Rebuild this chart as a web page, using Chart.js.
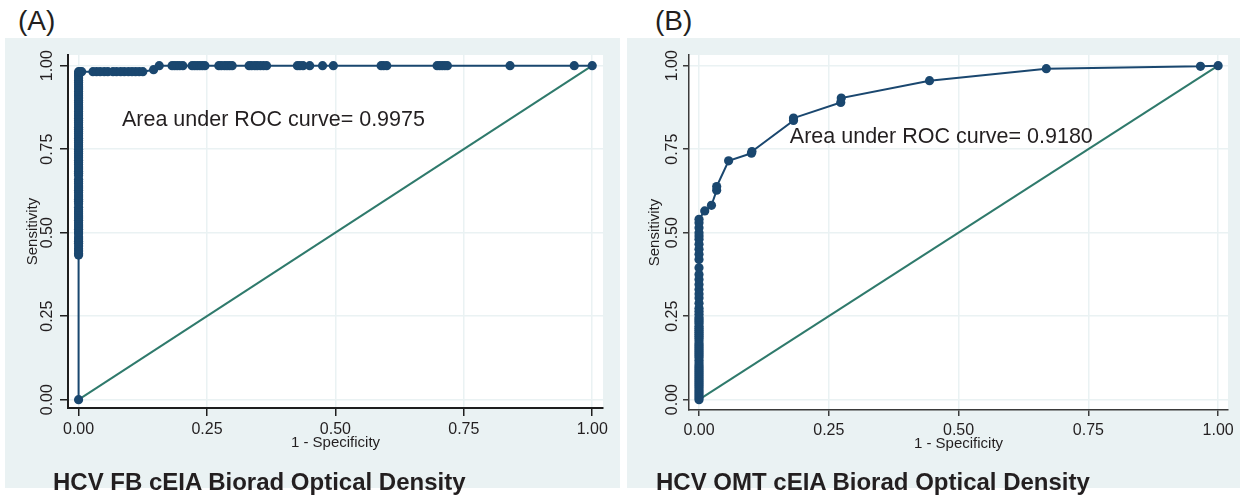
<!DOCTYPE html>
<html>
<head>
<meta charset="utf-8">
<script src="https://cdn.jsdelivr.net/npm/chart.js@4.4.1/dist/chart.umd.min.js"></script>
<style>
  body { margin: 0; background: #fff; width: 1247px; height: 498px; position: relative; overflow: hidden;
         font-family: "Liberation Sans", Arial, sans-serif; color: #231f20; }
  canvas { position: absolute; top: 38px; }
  .lab { position: absolute; top: 7px; font-size: 28px; line-height: 1; }
  .ttl { position: absolute; top: 470px; font-size: 24px; font-weight: bold; line-height: 1; }
</style>
</head>
<body>
<div class="lab" style="left:18px">(A)</div>
<div class="lab" style="left:655px">(B)</div>
<canvas id="chartA" width="615" height="450" style="left:5px"></canvas>
<canvas id="chartB" width="613" height="450" style="left:627px"></canvas>
<div class="ttl" style="left:53px">HCV FB cEIA Biorad Optical Density</div>
<div class="ttl" style="left:656px">HCV OMT cEIA Biorad Optical Density</div>
<script>
// shared axis ticks
const tickVals = [0, 0.25, 0.5, 0.75, 1];
const tickLabels = ['0.00', '0.25', '0.50', '0.75', '1.00'];

// (A) FB: sensitivities at 1-specificity = 0
const fbSensAtZero = [0, 0.433, 0.438, 0.445, 0.452, 0.46, 0.468, 0.474, 0.481, 0.487, 0.497, 0.503, 0.51,
  0.517, 0.523, 0.53, 0.537, 0.544, 0.55, 0.557, 0.563, 0.569, 0.576, 0.587, 0.594, 0.6, 0.607, 0.613, 0.62,
  0.627, 0.634, 0.64, 0.647, 0.653, 0.66, 0.671, 0.678, 0.684, 0.691, 0.697, 0.704, 0.71, 0.717, 0.724, 0.73,
  0.737, 0.743, 0.75, 0.757, 0.763, 0.77, 0.776, 0.783, 0.79, 0.797, 0.803, 0.81, 0.816, 0.823, 0.83, 0.836,
  0.843, 0.85, 0.856, 0.863, 0.87, 0.876, 0.883, 0.89, 0.896, 0.903, 0.91, 0.916, 0.923, 0.93, 0.936, 0.943,
  0.95, 0.956, 0.963, 0.97, 0.976, 0.982];
// 1-specificity where sensitivity = 0.982
const fbFprAt982 = [0.003, 0.006, 0.028, 0.035, 0.042, 0.05, 0.057, 0.067, 0.074, 0.082, 0.089, 0.097,
  0.104, 0.111, 0.118, 0.125];
const fbStepFpr = [0.146];
const fbStepSens = [0.988];
// 1-specificity where sensitivity = 1
const fbFprAt1 = [0.157, 0.182, 0.187, 0.192, 0.197, 0.203, 0.221, 0.226, 0.231, 0.236, 0.241, 0.246,
  0.273, 0.278, 0.284, 0.289, 0.294, 0.299, 0.332, 0.337, 0.343, 0.348, 0.354, 0.36, 0.366, 0.426, 0.431,
  0.437, 0.45, 0.475, 0.496, 0.589, 0.594, 0.6, 0.698, 0.703, 0.708, 0.713, 0.718, 0.84, 0.965, 1.0];

// (B) OMT: sensitivities at 1-specificity = 0
const omtSensAtZero = [0, 0.006, 0.012, 0.018, 0.024, 0.03, 0.036, 0.042, 0.048, 0.054, 0.06, 0.066, 0.072,
  0.078, 0.084, 0.09, 0.096, 0.102, 0.11, 0.118, 0.126, 0.132, 0.138, 0.144, 0.15, 0.156, 0.162, 0.168,
  0.176, 0.184, 0.19, 0.196, 0.202, 0.208, 0.214, 0.22, 0.228, 0.234, 0.24, 0.246, 0.256, 0.265, 0.274,
  0.289, 0.304, 0.316, 0.33, 0.345, 0.36, 0.375, 0.395, 0.42, 0.435, 0.45, 0.465, 0.48, 0.49, 0.5, 0.515,
  0.53, 0.54];
const omtFpr = [0.011, 0.024, 0.034, 0.034, 0.057, 0.101, 0.102, 0.182, 0.182, 0.273, 0.274, 0.444, 0.669, 0.966, 1.0];
const omtSens = [0.565, 0.582, 0.627, 0.638, 0.715, 0.738, 0.743, 0.836, 0.843, 0.89, 0.903, 0.955, 0.991, 0.998, 1.0];

const fbPoints = [
  ...fbSensAtZero.map(s => ({x: 0, y: s})),
  ...fbFprAt982.map(f => ({x: f, y: 0.982})),
  ...fbStepFpr.map((f, i) => ({x: f, y: fbStepSens[i]})),
  ...fbFprAt1.map(f => ({x: f, y: 1}))
];
const omtPoints = [
  ...omtSensAtZero.map(s => ({x: 0, y: s})),
  ...omtFpr.map((f, i) => ({x: f, y: omtSens[i]}))
];

const navy = '#1a476f';
const teal = '#2f7a6c';
const panelBg = '#eaf2f3';
const font = '"Liberation Sans", Arial, sans-serif';

const panelFill = {
  id: 'panelFill',
  beforeDraw(chart) {
    const {ctx, chartArea: a} = chart;
    ctx.save();
    ctx.fillStyle = panelBg;
    ctx.fillRect(0, 0, chart.width, chart.height);
    ctx.fillStyle = '#fff';
    ctx.fillRect(a.left, a.top, a.right - a.left, a.bottom - a.top);
    ctx.restore();
  }
};

const extraText = {
  id: 'extraText',
  afterDraw(chart, args, opts) {
    const ctx = chart.ctx, xs = chart.scales.x, ys = chart.scales.y;
    ctx.save();
    ctx.fillStyle = '#231f20';
    // rotated y tick labels
    ctx.font = '16px ' + font;
    ctx.textAlign = 'center';
    ctx.textBaseline = 'middle';
    tickVals.forEach((v, i) => {
      ctx.save();
      ctx.translate(opts.tickX, ys.getPixelForValue(v));
      ctx.rotate(-Math.PI / 2);
      ctx.fillText(tickLabels[i], 0, 0);
      ctx.restore();
    });
    // AUC note
    ctx.font = '21.5px ' + font;
    ctx.textAlign = 'left';
    ctx.fillText(opts.note, xs.getPixelForValue(opts.noteX), ys.getPixelForValue(opts.noteY));
    ctx.restore();
  }
};

function makeChart(id, pts, g) {
  return new Chart(document.getElementById(id), {
    type: 'scatter',
    data: {
      datasets: [{
        data: pts,
        showLine: true,
        borderColor: navy,
        borderWidth: 2,
        pointRadius: 4.6,
        pointBackgroundColor: navy,
        pointBorderColor: navy,
        pointBorderWidth: 0
      }, {
        data: [{x: 0, y: 0}, {x: 1, y: 1}],
        showLine: true,
        borderColor: teal,
        borderWidth: 2,
        pointRadius: 0
      }]
    },
    options: {
      responsive: false,
      animation: false,
      devicePixelRatio: 1,
      layout: {padding: {left: 0, right: g.padRight, top: 17, bottom: 0}},
      plugins: {
        legend: {display: false},
        tooltip: {enabled: false},
        extraText: {tickX: g.tickX, note: g.note, noteX: g.noteX, noteY: g.noteY}
      },
      scales: {
        x: {
          type: 'linear',
          min: g.xMin, max: g.xMax,
          afterBuildTicks: s => { s.ticks = tickVals.map(v => ({value: v})); },
          afterFit: s => { s.height = g.xHeight; },
          grid: {color: panelBg, lineWidth: 1.5, tickColor: g.axisColor, tickLength: g.tickLen, tickWidth: 1.5},
          border: {display: true, color: g.axisColor, width: g.axisWidth},
          ticks: {autoSkip: false, maxRotation: 0, padding: g.xTickPad, color: '#231f20',
                  font: {family: font, size: 16}, callback: (v, i) => tickLabels[i]},
          title: {display: true, text: '1 - Specificity', color: '#231f20',
                  font: {family: font, size: 15}, padding: {top: 0, bottom: g.xTitlePad}}
        },
        y: {
          type: 'linear',
          min: g.yMin, max: g.yMax,
          afterBuildTicks: s => { s.ticks = tickVals.map(v => ({value: v})); },
          afterFit: s => { s.width = g.yWidth; },
          grid: {color: panelBg, lineWidth: 1.5, tickColor: g.axisColor, tickLength: g.tickLen, tickWidth: 1.5},
          border: {display: true, color: g.axisColor, width: g.axisWidth},
          ticks: {display: false},
          title: {display: true, text: 'Sensitivity', color: '#231f20',
                  font: {family: font, size: 15}, padding: {top: 19, bottom: 0}}
        }
      }
    },
    plugins: [panelFill, extraText]
  });
}

makeChart('chartA', fbPoints, {
  xMin: -0.0206, xMax: 1.021, yMin: -0.0249, yMax: 1.032,
  padRight: 17, xHeight: 80, yWidth: 63, tickLen: 8, xTickPad: 4, xTitlePad: 36,
  axisColor: '#1e1e1e', axisWidth: 2, tickX: 43,
  note: 'Area under ROC curve= 0.9975', noteX: 0.0845, noteY: 0.837
});
makeChart('chartB', omtPoints, {
  xMin: -0.0193, xMax: 1.019, yMin: -0.031, yMax: 1.032,
  padRight: 12, xHeight: 78, yWidth: 62, tickLen: 6, xTickPad: 5, xTitlePad: 35,
  axisColor: '#3a3a3a', axisWidth: 1.5, tickX: 45.5,
  note: 'Area under ROC curve= 0.9180', noteX: 0.175, noteY: 0.787
});
</script>
</body>
</html>
